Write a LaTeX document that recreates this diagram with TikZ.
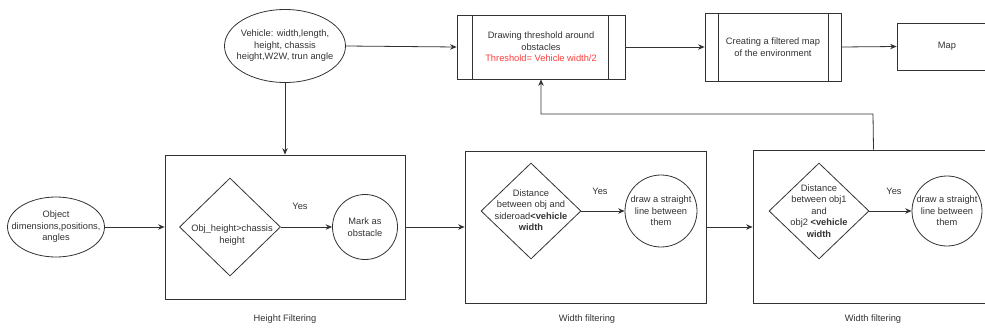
\documentclass[tikz,border=0pt]{standalone}
\usepackage{fontspec}
\setmainfont{Liberation Sans}
\usetikzlibrary{shapes.geometric,arrows.meta}
\definecolor{ink}{HTML}{333333}
\definecolor{warn}{HTML}{FF3B3B}
\begin{document}
\begin{tikzpicture}[x=1pt,y=-1pt,
  every node/.style={font=\fontsize{9.3}{11.5}\selectfont, text=ink},
  line/.style={draw=ink, line width=0.8pt},
  arrow/.style={line, -{Stealth[length=6.5pt,width=5.5pt]}},
  oval/.style={ellipse, line, inner sep=0},
  box/.style={rectangle, line, inner sep=0},
  dec/.style={diamond, line, inner sep=0},
  disc/.style={circle, line, inner sep=0},
  txt/.style={align=center, inner sep=0},
  caption/.style={inner sep=0}]
\useasboundingbox (0,0) rectangle (985,332);
\clip (0,0) rectangle (985,332);

% inputs
\node[oval, minimum width=121pt, minimum height=73pt] (veh) at (285,46) {};
\node[txt] at (veh) {Vehicle: width,length,\\height, chassis\\height,W2W, trun angle};
\node[oval, minimum width=97pt, minimum height=60pt] (obj) at (56,227) {};
\node[txt] at (obj) {Object\\dimensions,positions,\\angles};

% top row of processes
\node[box, minimum width=168pt, minimum height=64pt] (thr) at (541,47) {};
\draw[line] ([xshift=16pt]thr.north west) -- ([xshift=16pt]thr.south west);
\draw[line] ([xshift=-17pt]thr.north east) -- ([xshift=-17pt]thr.south east);
\node[txt] at (541,47) {Drawing threshold around\\obstacles\\\textcolor{warn}{Threshold= Vehicle width/2}};

\node[box, minimum width=136pt, minimum height=68pt] (filt) at (773,47) {};
\draw[line] ([xshift=14pt]filt.north west) -- ([xshift=14pt]filt.south west);
\draw[line] ([xshift=-13pt]filt.north east) -- ([xshift=-13pt]filt.south east);
\node[txt] at (773,47) {Creating a filtered map\\of the environment};

\node[box, minimum width=103pt, minimum height=47pt] (map) at (948.5,46.5) {};
\node[txt] at (947,46) {Map};

% filtering stages
\node[box, minimum width=240pt, minimum height=144pt] (hbox) at (285,227) {};
\node[dec, minimum width=101pt, minimum height=98pt] (hd) at (230,227) {};
\node[txt] at (232,235) {Obj\_height>chassis\\height};
\node[disc, minimum size=65pt] (hc) at (365,227) {};
\node[txt] at (hc) {Mark as\\obstacle};
\node[caption] at (300,206) {Yes};
\node[caption] at (285,319) {Height Filtering};

\node[box, minimum width=241pt, minimum height=152pt] (wbox1) at (585.5,227) {};
\node[dec, minimum width=100pt, minimum height=96pt] (wd1) at (531,211) {};
\node[txt] at (531,210) {Distance\\between obj and\\sideroad\textbf{<vehicle}\\\textbf{width}};
\node[disc, minimum size=72pt] (wc1) at (661,211) {};
\node[txt] at (wc1) {draw a straight\\line between\\them};
\node[caption] at (600,191) {Yes};
\node[caption] at (587,319) {Width filtering};

\node[box, minimum width=241pt, minimum height=153pt] (wbox2) at (873.5,226.5) {};
\node[dec, minimum width=100pt, minimum height=96pt] (wd2) at (819,211) {};
\node[txt] at (819,211) {Distance\\between obj1\\and\\obj2 \textbf{<vehicle}\\\textbf{width}};
\node[disc, minimum size=70pt] (wc2) at (947,211) {};
\node[txt] at (wc2) {draw a straight\\line between\\them};
\node[caption] at (894,191) {Yes};
\node[caption] at (873,319) {Width filtering};

% connectors
\draw[arrow] (veh.east) -- (thr.west);
\draw[arrow] (veh.south) -- (hbox.north);
\draw[arrow] (obj.east) -- (hbox.west);
\draw[arrow] (hd.east) -- (hc.west);
\draw[arrow] (hbox.east) -- (wbox1.west);
\draw[arrow] (wd1.east) -- (wc1.west);
\draw[arrow] (wbox1.east) -- (wbox2.west |- wbox1.east);
\draw[arrow] (wd2.east) -- (wc2.west);
\draw[arrow] (thr.east) -- (filt.west);
\draw[arrow] (filt.east) -- (map.west);
\coordinate (bend) at (873,114);
\draw[arrow] (wbox2.north) -- (bend) -- (thr.south |- bend) -- (thr.south);
\end{tikzpicture}
\end{document}
